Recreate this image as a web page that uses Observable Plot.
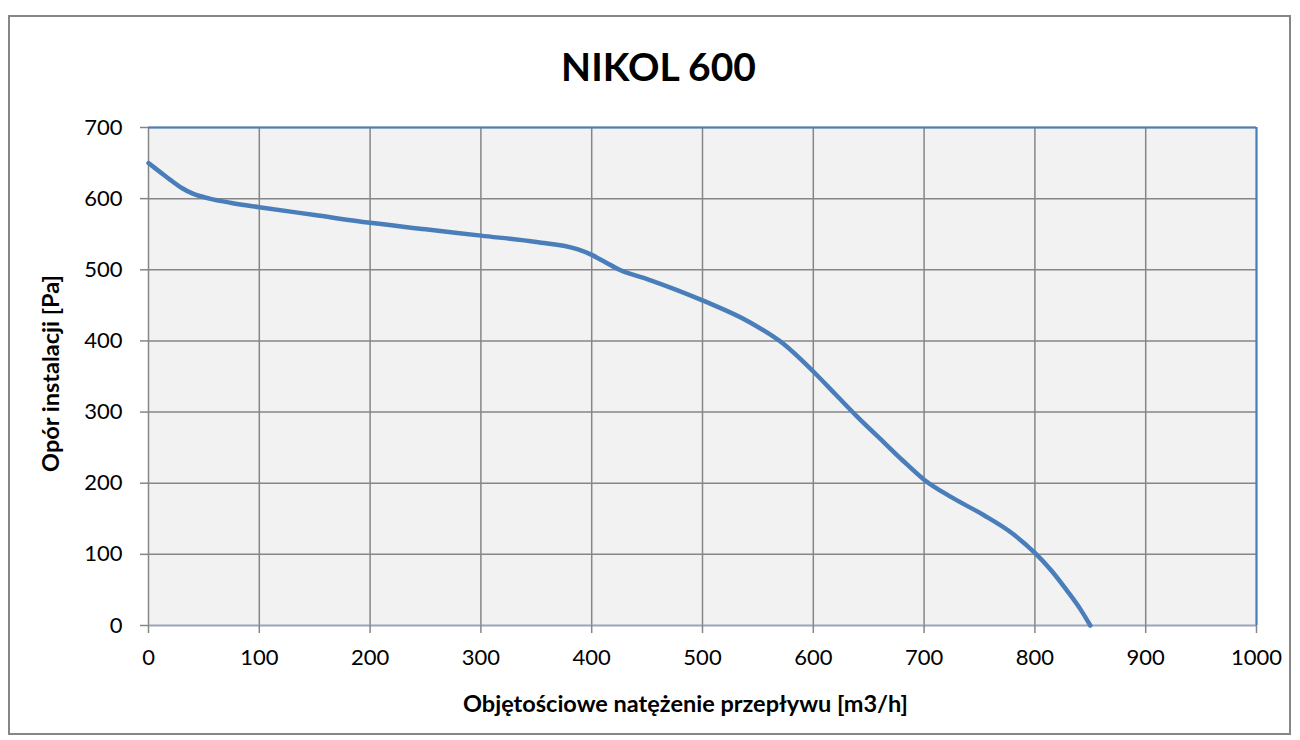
<!DOCTYPE html>
<html>
<head>
<meta charset="utf-8">
<script src="https://cdn.jsdelivr.net/npm/d3@7"></script>
<script src="https://cdn.jsdelivr.net/npm/@observablehq/plot@0.6"></script>
<style>
  html, body { margin: 0; padding: 0; background: #fff; }
  #wrap { position: relative; width: 1300px; height: 740px; overflow: hidden; font-family: Lato, "DejaVu Sans", sans-serif; }
  #border { position: absolute; left: 8px; top: 15px; width: 1283px; height: 720px; border: 2px solid #868686; box-sizing: border-box; }
  #chart { position: absolute; left: 0; top: 0; }
</style>
</head>
<body>
<div id="wrap">
  <div id="border"></div>
  <div id="chart"></div>
</div>
<script>
const title = "NIKOL 600";
const xLabel = "Objętościowe natężenie przepływu [m3/h]";
const yLabel = "Opór instalacji [Pa]";
const xTicks = [0, 100, 200, 300, 400, 500, 600, 700, 800, 900, 1000];
const yTicks = [0, 100, 200, 300, 400, 500, 600, 700];

const flow = [0, 10, 20, 30, 40, 55, 75, 100, 150, 200, 250, 300, 350, 387, 400, 412, 425, 450, 500, 543, 573, 600, 620, 640, 660, 680, 700, 725, 754, 780, 800, 815, 829, 841, 850];
const pressure = [650, 638, 626, 615, 607, 600, 594, 588, 577, 566, 557, 548, 539, 529, 521, 511, 500, 487, 457, 426, 396, 357, 325, 293, 263, 233, 205, 180, 155, 129, 102, 77, 49, 23, 0];

const data = flow.map((f, i) => ({flow: f, pressure: pressure[i]}));

const grid = "#868686";
const blue = "#4a7ebb";

const chart = Plot.plot({
  width: 1300,
  height: 740,
  marginLeft: 148,
  marginRight: 44,
  marginTop: 127,
  marginBottom: 115,
  style: {fontFamily: "Lato, 'DejaVu Sans', sans-serif", fontSize: "22px", color: "black", background: "transparent", overflow: "visible"},
  x: {domain: [0, 1000], ticks: xTicks},
  y: {domain: [0, 700], ticks: yTicks},
  marks: [
    Plot.frame({fill: "#f2f2f2", stroke: null}),
    Plot.gridX(xTicks, {stroke: grid, strokeOpacity: 1, strokeWidth: 1.5}),
    Plot.gridY(yTicks, {stroke: grid, strokeOpacity: 1, strokeWidth: 1.5}),
    Plot.ruleY([yTicks[yTicks.length - 1]], {stroke: blue, strokeWidth: 2}),
    Plot.ruleX([xTicks[xTicks.length - 1]], {stroke: blue, strokeWidth: 2}),
    Plot.ruleY([0], {stroke: "#8aa8d0", strokeWidth: 1.5}),
    Plot.axisX(xTicks, {tickSize: 8, tickFormat: () => "", stroke: grid, strokeWidth: 1.5, label: null}),
    Plot.axisY(yTicks, {tickSize: 8, tickFormat: () => "", stroke: grid, strokeWidth: 1.5, label: null}),
    Plot.axisX(xTicks, {tickSize: 0, tickPadding: 24, tickFormat: d3.format("d"), label: null, fill: "black", fontSize: 22}),
    Plot.axisY(yTicks, {tickSize: 0, tickPadding: 26, tickFormat: d3.format("d"), label: null, fill: "black", fontSize: 22}),
    Plot.line(data, {x: "flow", y: "pressure", stroke: blue, strokeWidth: 4.5, curve: "monotone-x"}),
    Plot.text([title], {frameAnchor: "top", dx: -44, dy: -74, fontSize: 39, fontWeight: "bold", fill: "black"}),
    Plot.text([xLabel], {frameAnchor: "bottom", textAnchor: "middle", dy: 86, dx: -17, fontSize: 23.5, fontWeight: "bold", fill: "black"}),
    Plot.text([yLabel], {frameAnchor: "left", textAnchor: "middle", rotate: -90, dx: -97, dy: -3, fontSize: 23.5, fontWeight: "bold", fill: "black"})
  ]
});
document.getElementById("chart").appendChild(chart);
</script>
</body>
</html>
